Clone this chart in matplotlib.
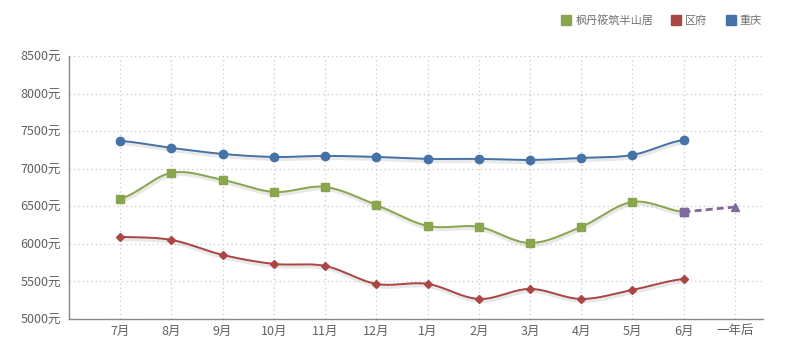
import numpy as np
import matplotlib
matplotlib.use("Agg")
import matplotlib.pyplot as plt
import matplotlib.patheffects as pe
from matplotlib.lines import Line2D

plt.rcParams['font.family'] = ['Noto Sans CJK SC', 'DejaVu Sans']

# ---- data ---------------------------------------------------------------
months = ["7月", "8月", "9月", "10月", "11月", "12月", "1月", "2月", "3月",
          "4月", "5月", "6月", "一年后"]
fengdan = [6600, 6945, 6850, 6690, 6757, 6517, 6238, 6225, 6011, 6225, 6557, 6424]
quyu = [6091, 6051, 5852, 5732, 5705, 5466, 5466, 5266, 5399, 5266, 5386, 5532]
chongqing = [7369, 7276, 7196, 7156, 7170, 7156, 7130, 7130, 7116, 7143, 7183, 7382]
forecast = [6424, 6490]          # 6月 -> 一年后
yticks = [5000, 5500, 6000, 6500, 7000, 7500, 8000, 8500]

C_GREEN, C_RED, C_BLUE, C_PURPLE = "#89A54E", "#AA4643", "#4572A7", "#80699B"


def spline(y, n=30):
    """Catmull-Rom style smoothing through the points (highcharts-like spline)."""
    y = np.asarray(y, float)
    x = np.arange(len(y), dtype=float)
    m = np.zeros_like(y)
    m[1:-1] = (y[2:] - y[:-2]) / 2
    m[0], m[-1] = (y[1] - y[0]) * 0.5, (y[-1] - y[-2]) * 0.5
    xs, ys = [], []
    for i in range(len(y) - 1):
        t = np.linspace(0, 1, n, endpoint=False)
        h00 = 2*t**3 - 3*t**2 + 1
        h10 = t**3 - 2*t**2 + t
        h01 = -2*t**3 + 3*t**2
        h11 = t**3 - t**2
        xs.append(x[i] + t)
        ys.append(h00*y[i] + h10*m[i] + h01*y[i+1] + h11*m[i+1])
    xs.append([x[-1]]); ys.append([y[-1]])
    return np.concatenate(xs), np.concatenate(ys)


fig = plt.figure(figsize=(8, 3.52), dpi=100)
ax = fig.add_axes([0.08625, 0.094, 0.8675, 0.747])

shadow = [pe.SimpleLineShadow(offset=(0.5, -1.2), shadow_color="#999999", alpha=0.22, linewidth=3.5),
          pe.Normal()]

for vals, col, mk, ms in [(chongqing, C_BLUE, "o", 6),
                          (fengdan, C_GREEN, "s", 6),
                          (quyu, C_RED, "D", 4)]:
    sx, sy = spline(vals)
    ax.plot(sx, sy, color=col, lw=1.4, path_effects=shadow, zorder=3)
    ax.plot(range(len(vals)), vals, ls="none", marker=mk, ms=ms, color=col, zorder=4)

ax.plot([11, 12], forecast, color=C_PURPLE, lw=2, ls=(0, (2.5, 1.5)), zorder=5)
ax.plot([11], forecast[:1], marker="s", ms=6, color=C_PURPLE, ls="none", zorder=6)
ax.plot([12], forecast[1:], marker="^", ms=6, color=C_PURPLE, ls="none", zorder=6)

ax.set_xlim(-1, 12.55)
ax.set_ylim(5000, 8500)
ax.set_xticks(range(len(months)))
ax.set_xticklabels(months)
ax.set_yticks(yticks)
ax.set_yticklabels([f"{v}元" for v in yticks])
ax.tick_params(axis="both", colors="#606060", labelsize=9, length=0, pad=6)
ax.tick_params(axis="x", pad=4)

ax.grid(True, color="#C8C8C8", ls=(0, (1, 2.5)), lw=0.9)
ax.set_axisbelow(True)
for s in ("top", "right"):
    ax.spines[s].set_visible(False)
for s in ("left", "bottom"):
    ax.spines[s].set_color("#888888")
    ax.spines[s].set_linewidth(1)

handles = [Line2D([], [], ls="none", marker="s", ms=7, color=c)
           for c in (C_GREEN, C_RED, C_BLUE)]
fig.legend(handles, ["枫丹筱筑半山居", "区府", "重庆"], loc="upper right",
           bbox_to_anchor=(0.965, 0.985), ncol=3, frameon=False, fontsize=8,
           labelcolor="#707070", handletextpad=0.3, columnspacing=1.6,
           handlelength=1)

fig.savefig("out.png", dpi=100)
